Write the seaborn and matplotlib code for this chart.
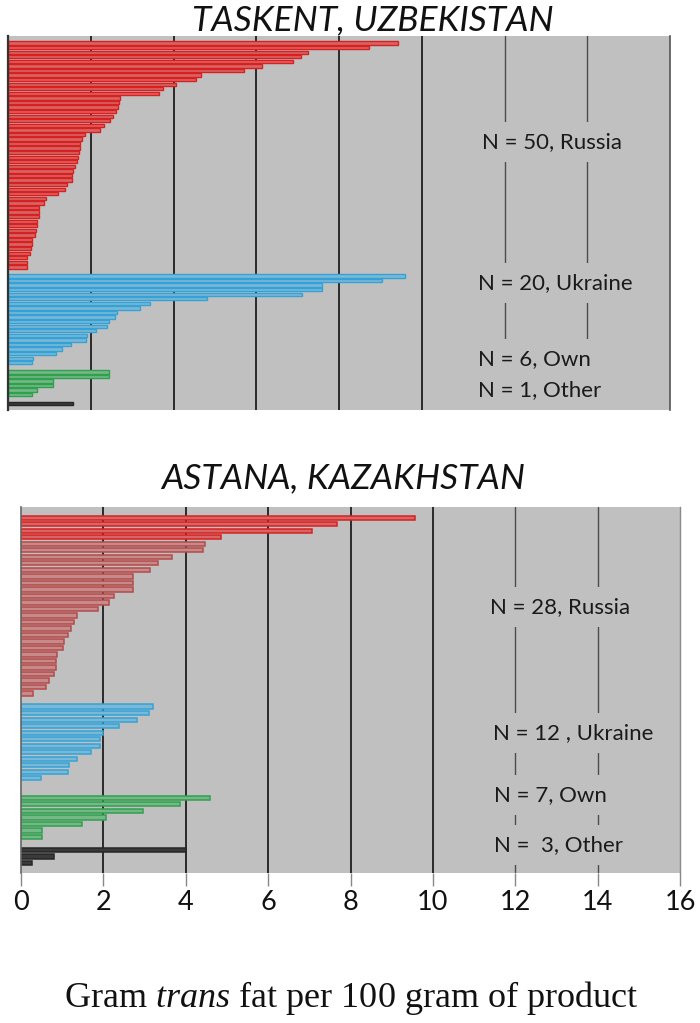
import matplotlib
matplotlib.use("Agg")
import matplotlib.pyplot as plt
import numpy as np
import pandas as pd
import seaborn as sns

# ---------------- data ----------------
groups = ["Russia", "Ukraine", "Own", "Other"]

tas_russia = [9.42, 8.73, 7.25, 7.09, 6.90, 6.14, 5.70, 4.66, 4.55, 4.07, 3.74, 3.66,
              2.70, 2.69, 2.66, 2.62, 2.54, 2.47, 2.32, 2.22,
              1.86, 1.79, 1.75, 1.74, 1.72, 1.69, 1.66, 1.62, 1.57, 1.55, 1.55, 1.42, 1.38, 1.22,
              0.91, 0.88, 0.76, 0.75, 0.74, 0.70, 0.69, 0.67, 0.65, 0.59, 0.57, 0.56, 0.52, 0.47, 0.46, 0.45]
tas_ukraine = [9.59, 9.05, 7.60, 7.60, 7.10, 4.80, 3.43, 3.20, 2.64, 2.58,
               2.44, 2.40, 2.13, 1.90, 1.88, 1.53, 1.30, 1.15, 0.60, 0.57]
tas_own = [2.44, 2.44, 1.08, 1.08, 0.71, 0.57]
tas_other = [1.58]

ast_russia = [9.57, 7.68, 7.07, 4.85, 4.47, 4.43, 3.66, 3.33, 3.14, 2.72, 2.72, 2.72, 2.25, 2.14,
              1.88, 1.37, 1.29, 1.22, 1.14, 1.04, 1.02, 0.88, 0.84, 0.84, 0.79, 0.68, 0.60, 0.30]
ast_ukraine = [3.20, 3.10, 2.82, 2.39, 2.00, 1.93, 1.93, 1.69, 1.36, 1.17, 1.14, 0.49]
ast_own = [4.59, 3.87, 2.95, 2.06, 1.48, 0.52, 0.52]
ast_other = [4.00, 0.79, 0.27]

tas_labels = ["N = 50, Russia", "N = 20, Ukraine", "N = 6, Own", "N = 1, Other"]
ast_labels = ["N = 28, Russia", "N = 12 , Ukraine", "N = 7, Own", "N =  3, Other"]

titles = ["TASKENT, UZBEKISTAN", "ASTANA, KAZAKHSTAN"]
xticks = [0, 2, 4, 6, 8, 10, 12, 14, 16]
xlabel = "Gram $\\mathit{trans}$ fat per 100 gram of product"

# ---------------- style ----------------
sns.set_theme(style="white")
plt.rcParams["font.family"] = ["Lato", "DejaVu Sans"]
plt.rcParams["mathtext.fontset"] = "custom"
plt.rcParams["mathtext.rm"] = "Liberation Serif"
plt.rcParams["mathtext.it"] = "Liberation Serif:italic"

PANEL = "#c0c0c0"
face = {"Russia": "#ea5252", "Ukraine": "#6cbde6", "Own": "#6cc282", "Other": "#3a3a3a"}
edge = {"Russia": "#d82020", "Ukraine": "#34a2d6", "Own": "#2fa04e", "Other": "#262626"}
face_muted = "#d08080"
edge_muted = "#b44a4a"


def build(vals_list, gaps):
    rows, order = [], []
    for gi, (g, vals) in enumerate(zip(groups, vals_list)):
        for j, v in enumerate(vals):
            rid = f"{g}{j}"
            rows.append({"row": rid, "value": v, "group": g, "rank": j})
            order.append(rid)
        if gi < len(gaps):
            order += [f"gap{gi}_{k}" for k in range(gaps[gi])]
    return pd.DataFrame(rows), order


fig = plt.figure(figsize=(7.0, 10.23), dpi=100)
ax_top = fig.add_axes([8 / 700, 1 - 410 / 1023, 662 / 700, 374 / 1023])
ax_bot = fig.add_axes([21 / 700, 1 - 873 / 1023, 659 / 700, 366 / 1023])

panels = [
    (ax_top, [tas_russia, tas_ukraine, tas_own, tas_other], [1, 1, 1], tas_labels, None,
     [(0.716, 0.717), (0.710, 0.340), (0.710, 0.136), (0.710, 0.053)], (1.56, 1.35), 0.72, 1.0),
    (ax_bot, [ast_russia, ast_ukraine, ast_own, ast_other], [1, 2, 1], ast_labels, 4,
     [(0.712, 0.727), (0.716, 0.383), (0.718, 0.213), (0.718, 0.077)], (1.65, 1.54), 0.66, 1.1),
]

for ax, vals, gaps, labels, bright_n, label_pos, pads, h, lw in panels:
    df, order = build(vals, gaps)
    fmap, emap = {}, {}
    for _, r in df.iterrows():
        if bright_n is not None and r["group"] == "Russia" and r["rank"] >= bright_n:
            fmap[r["row"]], emap[r["row"]] = face_muted, edge_muted
        else:
            fmap[r["row"]], emap[r["row"]] = face[r["group"]], edge[r["group"]]
    hue_order = list(df["row"])
    sns.barplot(data=df, x="value", y="row", hue="row", order=order, hue_order=hue_order,
                palette=fmap, legend=False, width=h, orient="h", ax=ax, zorder=2)
    for cont, rid in zip(ax.containers, hue_order):
        for p in cont.patches:
            p.set_edgecolor(emap[rid])
            p.set_linewidth(lw)
    ax.set_facecolor(PANEL)
    ax.set_xlim(0, 16)
    ax.set_ylim(len(order) - 1 + pads[1], -pads[0])
    ax.set_yticks([])
    ax.set_ylabel("")
    ax.set_xlabel("")
    for x in [2, 4, 6, 8, 10]:
        ax.axvline(x, color="#2a2a2a", lw=1.4, zorder=1)
    for x in [12, 14]:
        ax.axvline(x, color="#4c4c4c", lw=1.0, zorder=1)
    for s in ["top", "bottom"]:
        ax.spines[s].set_visible(False)
    for (lx, ly), txt in zip(label_pos, labels):
        ax.text(lx, ly, txt, transform=ax.transAxes, ha="left", va="center", fontsize=16,
                color="#1a1a1a", zorder=5,
                bbox=dict(facecolor=PANEL, edgecolor="none", pad=7))

ax_top.spines["left"].set_color("#333333")
ax_top.spines["left"].set_linewidth(1.6)
ax_top.spines["right"].set_color("#555555")
ax_top.spines["right"].set_linewidth(1.2)
ax_top.set_xticks(xticks)
ax_top.tick_params(axis="x", bottom=False, labelbottom=False)

ax_bot.spines["left"].set_color("#666666")
ax_bot.spines["left"].set_linewidth(1.2)
ax_bot.spines["right"].set_color("#8a8a8a")
ax_bot.spines["right"].set_linewidth(1.0)
ax_bot.set_xticks(xticks)
ax_bot.set_xticklabels([str(t) for t in xticks])
ax_bot.tick_params(axis="x", bottom=True, length=9, width=1, color="#888888",
                   labelsize=19.5, pad=3, labelcolor="#111111")

fig.text(373 / 700, 1 - 30 / 1023, titles[0], ha="center", va="baseline",
         fontsize=25.5, style="italic", color="#111111")
fig.text(343 / 700, 1 - 488 / 1023, titles[1], ha="center", va="baseline",
         fontsize=25.5, style="italic", color="#111111")
fig.text(351 / 700, 1 - 1007 / 1023, xlabel, ha="center", va="baseline",
         fontsize=26, family="Liberation Serif", color="#111111")

fig.savefig("out.png", dpi=100, facecolor="white")
